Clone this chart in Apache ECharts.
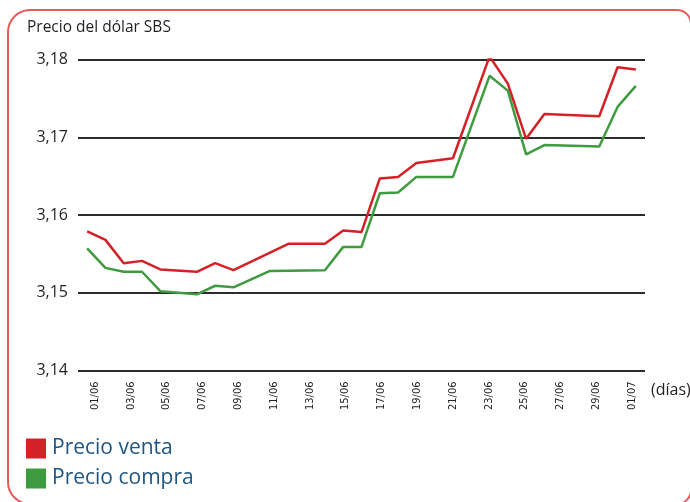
<!DOCTYPE html>
<html>
<head>
<meta charset="utf-8">
<script src="https://cdn.jsdelivr.net/npm/echarts@6/dist/echarts.min.js"></script>
<style>
html,body{margin:0;padding:0;background:#fff;}
#c{width:690px;height:502px;}
</style>
</head>
<body>
<div id="c"></div>
<script>
// Categories: every day from 01/06 to 01/07
const categories = ['01/06','02/06','03/06','04/06','05/06','06/06','07/06','08/06','09/06','10/06',
  '11/06','12/06','13/06','14/06','15/06','16/06','17/06','18/06','19/06','20/06',
  '21/06','22/06','23/06','24/06','25/06','26/06','27/06','28/06','29/06','30/06','01/07'];
// null = no vertex drawn on that day (line connects neighbours)
const precioVenta = [3.1579,3.1568,3.1538,3.1541,3.1530,null,3.1527,3.1538,3.1529,null,
  null,3.1563,null,3.1563,3.1580,3.1578,3.1647,3.1649,3.1667,null,
  3.1673,null,3.1804,3.1769,3.1698,3.1730,null,null,3.1727,3.1790,3.1787];
const precioCompra = [3.1557,3.1532,3.1527,3.1527,3.1502,null,3.1498,3.1509,3.1507,null,
  3.1528,null,null,3.1529,3.1559,3.1559,3.1628,3.1629,3.1649,null,
  3.1649,null,3.1779,3.1760,3.1678,3.1690,null,null,3.1688,3.1739,3.1766];
const yTicks = [3.14, 3.15, 3.16, 3.17, 3.18];
const seriesNames = ['Precio venta', 'Precio compra'];

const chart = echarts.init(document.getElementById('c'), null, {renderer: 'canvas'});
const font = "'Open Sans', 'Noto Sans', sans-serif";
const option = {
  animation: false,
  color: ['#d42128', '#3e9b3f'],
  graphic: [
    {type: 'rect', silent: true, z: -1,
     shape: {x: 8, y: 10, width: 683, height: 494, r: [22, 14, 14, 22]},
     style: {fill: 'none', stroke: '#e95a5c', lineWidth: 2}},
    {type: 'text', left: 27, top: 20,
     style: {text: 'Precio del dólar SBS', font: "15.5px " + font, fill: '#231f20'}},
    {type: 'text', left: 651, top: 382,
     style: {text: '(días)', font: "16px " + font, fill: '#231f20'}}
  ],
  legend: {
    orient: 'vertical', left: 26, top: 438, padding: 0,
    icon: 'rect', itemWidth: 20, itemHeight: 20, itemGap: 9,
    textStyle: {fontFamily: font, fontSize: 21, color: '#1c5685', padding: [0, 0, 0, 1]},
    data: seriesNames
  },
  grid: [
    {left: 78, width: 567, top: 59.5, height: 311},
    {left: 86, width: 555, top: 59.5, height: 311}
  ],
  xAxis: [
    {type: 'category', gridIndex: 0, data: categories, boundaryGap: true,
     axisLine: {show: false}, axisTick: {show: false}, axisLabel: {show: false}},
    {type: 'category', gridIndex: 1, data: categories, boundaryGap: true,
     axisLine: {show: false}, axisTick: {show: false},
     axisLabel: {interval: 1, rotate: 90, margin: 11, fontSize: 11,
       fontFamily: "'Liberation Sans Narrow', 'DejaVu Sans Condensed', " + font, color: '#231f20'}}
  ],
  yAxis: [
    {type: 'value', gridIndex: 0, min: yTicks[0], max: yTicks[yTicks.length - 1], interval: 0.01,
     axisLine: {show: false}, axisTick: {show: false},
     axisLabel: {margin: 10, fontSize: 16, fontFamily: font, color: '#231f20',
       formatter: v => v.toFixed(2).replace('.', ',')},
     splitLine: {show: true, lineStyle: {color: '#2b2b2b', width: 2}}},
    {type: 'value', gridIndex: 1, min: yTicks[0], max: yTicks[yTicks.length - 1], show: false}
  ],
  series: [
    {name: seriesNames[0], type: 'line', xAxisIndex: 0, yAxisIndex: 0, data: precioVenta,
     connectNulls: true, showSymbol: false, symbol: 'none', lineStyle: {width: 2.5}},
    {name: seriesNames[1], type: 'line', xAxisIndex: 0, yAxisIndex: 0, data: precioCompra,
     connectNulls: true, showSymbol: false, symbol: 'none', lineStyle: {width: 2.5}}
  ]
};
chart.setOption(option);
</script>
</body>
</html>
